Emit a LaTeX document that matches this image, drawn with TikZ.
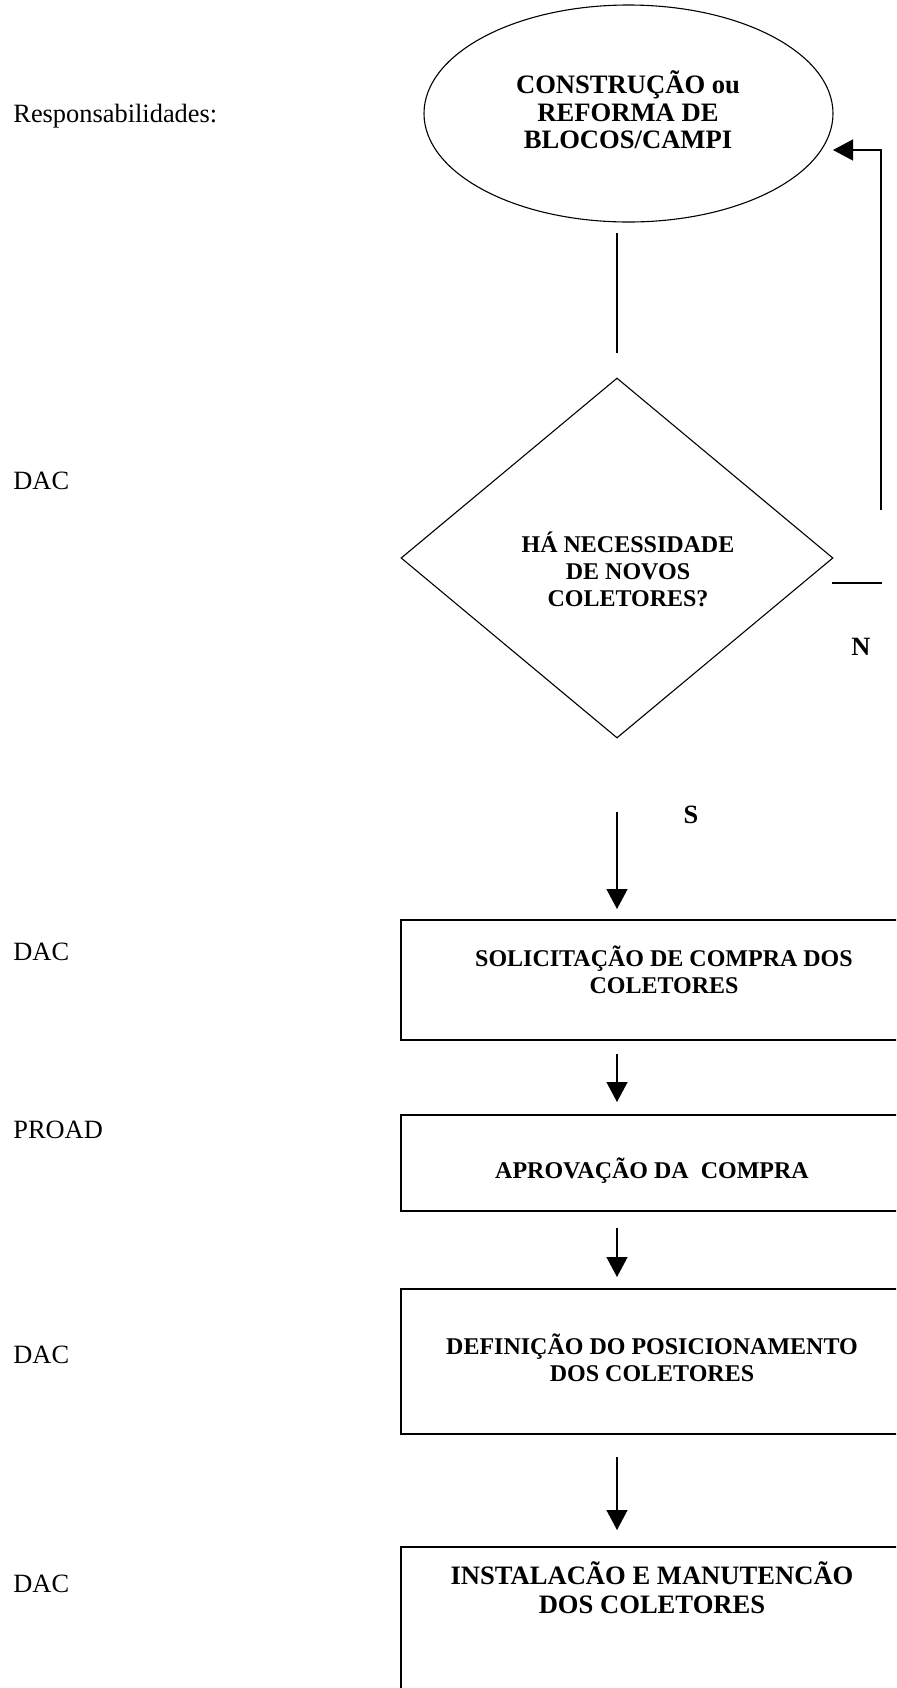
\documentclass[tikz,border=0pt]{standalone}
\usepackage{fontspec}
\setmainfont{Liberation Serif}
\usetikzlibrary{shapes.geometric,arrows.meta,calc}
\begin{document}
\begin{tikzpicture}[x=0.5pt,y=-0.5pt]
\tikzset{
  lbl/.style={anchor=base west, font=\fontsize{13.2}{15}\selectfont, inner sep=0},
  btxt/.style={align=center, font=\bfseries\fontsize{12}{13.5}\selectfont, inner sep=0},
  bigtxt/.style={align=center, font=\bfseries\fontsize{13.3}{14.5}\selectfont, inner sep=0},
  yn/.style={anchor=base, font=\bfseries\fontsize{13.2}{15}\selectfont, inner sep=0},
  stepbox/.style={draw, line width=0.75pt, rectangle, minimum width=252pt, inner sep=0},
  outline/.style={draw, line width=0.55pt, inner sep=0},
  conn/.style={line width=0.65pt},
  arr/.style={conn, -{Triangle[length=10pt,width=10.5pt]}},
}
\clip (0,0) rectangle (896,1688);
\fill[white] (0,0) rectangle (896,1688);

% shapes
\node[outline, ellipse, minimum width=204.5pt, minimum height=108.5pt] (ell) at (628.5,113.5) {};
\node[outline, diamond, minimum width=216pt, minimum height=180pt] (dec) at (617,558) {};
\node[stepbox, minimum height=60pt] (b1) at (653,980) {};
\node[stepbox, minimum height=48pt] (b2) at (653,1163) {};
\node[stepbox, minimum height=72.5pt] (b3) at (653,1361.5) {};
\node[stepbox, minimum height=86.5pt] (b4) at (653,1633.5) {};

% texts
\node[bigtxt, font=\bfseries\fontsize{13.3}{13.75}\selectfont] (tell) at (628,110) {CONSTRUÇÃO ou\\REFORMA DE\\BLOCOS/CAMPI};
\node[btxt] (tdec) at (628,569.5) {HÁ NECESSIDADE\\DE NOVOS\\COLETORES?};
\node[btxt] (t1) at (664,970) {SOLICITAÇÃO DE COMPRA DOS\\COLETORES};
\node[btxt] (t2) at (652,1171) {APROVAÇÃO DA\ \ COMPRA};
\node[btxt] (t3) at (652,1358) {DEFINIÇÃO DO POSICIONAMENTO\\DOS COLETORES};
\node[bigtxt] (t4) at (652,1588) {INSTALACÃO E MANUTENCÃO\\DOS COLETORES};

% responsibilities
\node[lbl] (resp) at (13,122) {Responsabilidades:};
\node[lbl] (r1) at (13,489) {DAC};
\node[lbl] (r2) at (13,960) {DAC};
\node[lbl] (r3) at (13,1138) {PROAD};
\node[lbl] (r4) at (13,1363) {DAC};
\node[lbl] (r5) at (13,1592) {DAC};

\node[yn] (nlab) at (861,655) {N};
\node[yn] (slab) at (691,823) {S};

% connector end points
\coordinate (l1a) at (617,233);
\coordinate (l1b) at (617,353);
\coordinate (sa) at (617,812);
\coordinate (sb) at (617,909);
\coordinate (a2a) at (617,1054);
\coordinate (a2b) at (617,1102);
\coordinate (a3a) at (617,1228);
\coordinate (a3b) at (617,1277);
\coordinate (a4a) at (617,1457);
\coordinate (a4b) at (617,1530);
\coordinate (nh1) at (832,583);
\coordinate (nh2) at (882,583);
\coordinate (nv1) at (881,510);
\coordinate (nv2) at (881,150);
\coordinate (nv3) at (833,150);

\draw[conn] (l1a) -- (l1b);
\draw[arr] (sa) -- (sb);
\draw[arr] (a2a) -- (a2b);
\draw[arr] (a3a) -- (a3b);
\draw[arr] (a4a) -- (a4b);
\draw[conn] (nh1) -- (nh2);
\draw[arr] (nv1) -- (nv2) -- (nv3);
\end{tikzpicture}
\end{document}
